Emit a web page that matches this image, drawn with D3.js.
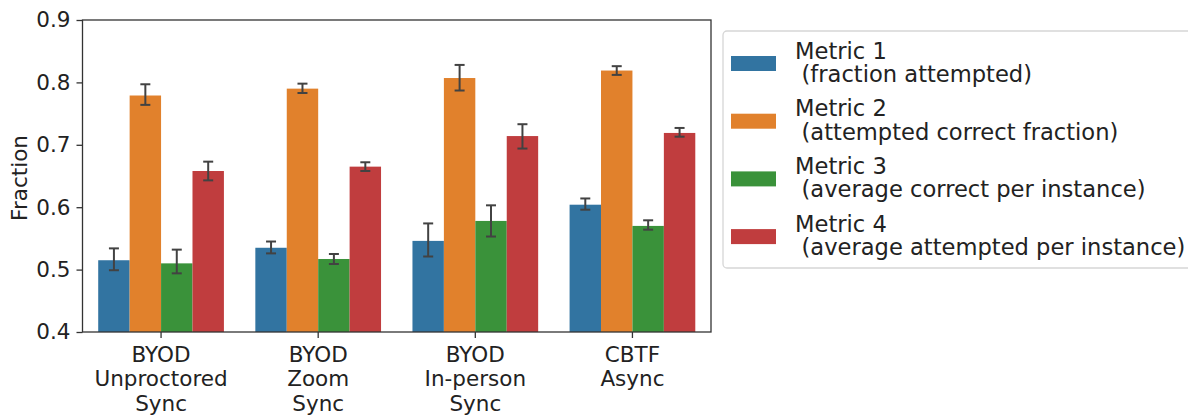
<!DOCTYPE html>
<html><head><meta charset="utf-8">
<script src="https://cdn.jsdelivr.net/npm/d3@7"></script>
<style>body{margin:0;background:#fff}svg{display:block}text{font-family:"DejaVu Sans",sans-serif}</style>
</head><body><svg id="c" width="1188" height="416"></svg>
<script>
const categories = [["BYOD","Unproctored","Sync"],["BYOD","Zoom","Sync"],["BYOD","In-person","Sync"],["CBTF","Async"]];
const seriesNames = [["Metric 1","(fraction attempted)"],["Metric 2","(attempted correct fraction)"],["Metric 3","(average correct per instance)"],["Metric 4","(average attempted per instance)"]];
const colors = ["#3274a1","#e1812c","#3a923a","#c03d3e"];
const metric1 = [0.515, 0.535, 0.546, 0.604];
const metric1Lo = [0.499, 0.526, 0.521, 0.596];
const metric1Hi = [0.534, 0.545, 0.574, 0.614];
const metric2 = [0.779, 0.790, 0.807, 0.819];
const metric2Lo = [0.764, 0.783, 0.787, 0.812];
const metric2Hi = [0.797, 0.798, 0.828, 0.826];
const metric3 = [0.510, 0.517, 0.578, 0.570];
const metric3Lo = [0.494, 0.509, 0.553, 0.564];
const metric3Hi = [0.532, 0.525, 0.603, 0.579];
const metric4 = [0.658, 0.665, 0.714, 0.719];
const metric4Lo = [0.643, 0.658, 0.694, 0.713];
const metric4Hi = [0.673, 0.672, 0.733, 0.727];
const yTicks = [0.4, 0.5, 0.6, 0.7, 0.8, 0.9];

const series = [[metric1,metric1Lo,metric1Hi],[metric2,metric2Lo,metric2Hi],[metric3,metric3Lo,metric3Hi],[metric4,metric4Lo,metric4Hi]];
const L=82.5, R=711, T=20, B=332, fs=21.5, lfs=22.6;
const svg = d3.select("#c");
const x = d3.scaleBand().domain(d3.range(categories.length)).range([L,R]).paddingInner(0.2).paddingOuter(0.1);
const xs = d3.scaleBand().domain(d3.range(series.length)).range([0, x.bandwidth()]);
const y = d3.scaleLinear().domain([0.4,0.9]).range([B,T]);

const g = svg.append("g");
series.forEach((s,si)=>{
  const [v,lo,hi]=s;
  g.selectAll(null).data(v).enter().append("rect")
    .attr("x",(d,i)=>x(i)+xs(si)).attr("width",xs.bandwidth())
    .attr("y",d=>y(d)).attr("height",d=>B-y(d)).attr("fill",colors[si]);
});
const cap=5;
series.forEach((s,si)=>{
  const [v,lo,hi]=s;
  v.forEach((d,i)=>{
    const cx=x(i)+xs(si)+xs.bandwidth()/2;
    const eg=g.append("g").attr("stroke","#424242").attr("stroke-width",2);
    eg.append("line").attr("x1",cx).attr("x2",cx).attr("y1",y(lo[i])).attr("y2",y(hi[i]));
    eg.append("line").attr("x1",cx-cap).attr("x2",cx+cap).attr("y1",y(lo[i])).attr("y2",y(lo[i]));
    eg.append("line").attr("x1",cx-cap).attr("x2",cx+cap).attr("y1",y(hi[i])).attr("y2",y(hi[i]));
  });
});

// y axis
const ya = svg.append("g").attr("transform",`translate(${L},0)`)
  .call(d3.axisLeft(y).tickValues(yTicks).tickFormat(d3.format(".1f")).tickSize(6).tickPadding(6));
ya.select(".domain").remove();
ya.selectAll("text").attr("font-size",fs).attr("fill","#222").attr("font-family","DejaVu Sans");
ya.selectAll("line").attr("stroke","#333").attr("stroke-width",1.3);

// x axis
const xa = svg.append("g").attr("transform",`translate(0,${B})`)
  .call(d3.axisBottom(x).tickFormat("").tickSize(6));
xa.select(".domain").remove();
xa.selectAll("line").attr("stroke","#333").attr("stroke-width",1.3);
categories.forEach((c,i)=>{
  const t = svg.append("text").attr("x",x(i)+x.bandwidth()/2).attr("text-anchor","middle")
    .attr("font-size",fs).attr("fill","#222");
  c.forEach((ln,j)=>t.append("tspan").attr("x",x(i)+x.bandwidth()/2).attr("y",361.5+j*24.5).text(ln));
});

// frame
svg.append("rect").attr("x",L).attr("y",T).attr("width",R-L).attr("height",B-T)
  .attr("fill","none").attr("stroke","#333").attr("stroke-width",1.3);

svg.append("text").attr("transform",`translate(27,${(T+B)/2+2}) rotate(-90)`).attr("text-anchor","middle")
  .attr("font-size",fs).attr("fill","#222").text("Fraction");

// legend
const lg = svg.append("g");
lg.append("rect").attr("x",723).attr("y",31).attr("width",500).attr("height",237).attr("rx",4)
  .attr("fill","#fff").attr("stroke","#d6d6d6").attr("stroke-width",1.3);
seriesNames.forEach((n,i)=>{
  const oy = i*57.7;
  lg.append("rect").attr("x",731).attr("y",56+oy).attr("width",45).attr("height",15).attr("fill",colors[i]);
  lg.append("text").attr("x",795).attr("y",58.5+oy).attr("font-size",lfs).attr("fill","#222").text(n[0]);
  lg.append("text").attr("x",801.5).attr("y",82+oy).attr("font-size",lfs).attr("fill","#222").text(n[1]);
});
</script></body></html>
